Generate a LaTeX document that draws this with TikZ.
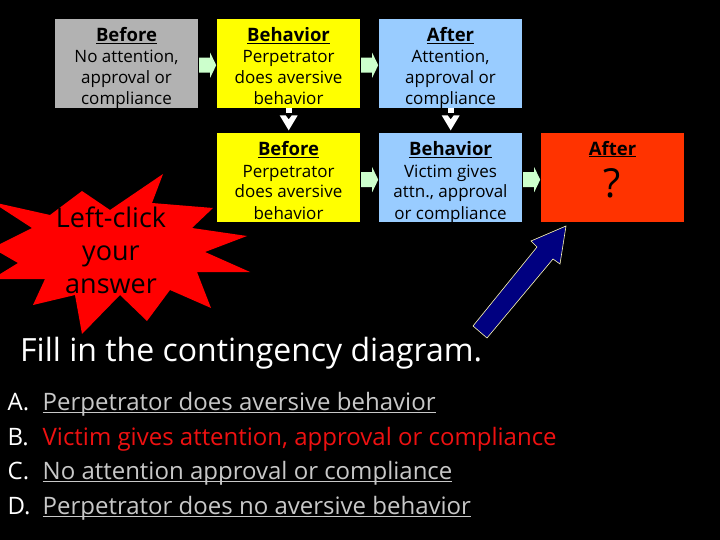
\documentclass[tikz,border=0pt]{standalone}
\usepackage{fontspec}
\setmainfont{Open Sans}
\usetikzlibrary{calc}
\definecolor{boxgray}{HTML}{B2B2B2}
\definecolor{ylw}{HTML}{FFFF00}
\definecolor{lblue}{HTML}{99CCFF}
\definecolor{redbox}{HTML}{FF3300}
\definecolor{starred}{HTML}{FF0000}
\definecolor{mint}{HTML}{CCFFCC}
\definecolor{navyarr}{HTML}{000080}
\definecolor{optgray}{HTML}{C8C8C8}
\definecolor{optred}{HTML}{EE1111}
\newcommand{\myul}[2][2pt]{\setbox0\hbox{#2}\rlap{\rule[-#1]{\wd0}{1.4pt}}\box0}
\newcommand{\hd}[1]{{\fontsize{18.5}{21}\selectfont\myul{\textbf{#1}}}}
\begin{document}
\begin{tikzpicture}[x=1pt,y=-1pt,
  box/.style={draw=none, minimum width=143pt, minimum height=89pt, inner sep=0pt, anchor=north west},
  btxt/.style={align=center, font=\fontsize{17}{21}\selectfont, inner sep=0pt, anchor=base, text=black},
  opt/.style={anchor=base west, inner sep=0pt, font=\fontsize{24}{28}\selectfont, text=white},
  rarr/.pic={\fill[mint] (-8.5,-7.5) -- (2.5,-7.5) -- (2.5,-12.5) -- (8.5,0) -- (2.5,12.5) -- (2.5,7.5) -- (-8.5,7.5) -- cycle;},
  darr/.pic={\fill[white] (-3,0) rectangle (3,5);
             \fill[white] (-9,7) -- (-3,7) -- (0,11) -- (3,7) -- (9,7) -- (0,22) -- cycle;}
]
\fill[black] (0,0) rectangle (720,540);
\useasboundingbox (0,0) rectangle (720,540);
\clip (0,0) rectangle (720,540);

% boxes
\node[box, fill=boxgray] (bef1) at (55,19) {};
\node[box, fill=ylw] (beh1) at (217,19) {};
\node[box, fill=lblue] (aft1) at (379,19) {};
\node[box, fill=ylw] (bef2) at (217,133) {};
\node[box, fill=lblue] (beh2) at (379,133) {};
\node[box, fill=redbox] (aft2) at (541,133) {};

% box texts (base = last line)
\node[btxt] (bef1t) at (126.5,105) {\hd{Before}\\No attention,\\approval or\\compliance};
\node[btxt] (beh1t) at (288.5,105) {\hd{Behavior}\\Perpetrator\\does aversive\\behavior};
\node[btxt] (aft1t) at (450.5,105) {\hd{After}\\Attention,\\approval or\\compliance};
\node[btxt] (bef2t) at (288.5,219) {\hd{Before}\\Perpetrator\\does aversive\\behavior};
\node[btxt] (beh2t) at (450.5,219) {\hd{Behavior}\\Victim gives\\attn., approval\\or compliance};
\node[btxt] (aft2t) at (612.5,155.5) {\hd{After}};
\node[anchor=base, inner sep=0pt, font=\fontsize{40}{40}\selectfont, text=black] (qm) at (612.5,197) {?};

% connectors
\path ($(bef1.east)!0.5!(beh1.west)$) ++(0,1.5) pic {rarr};
\path ($(beh1.east)!0.5!(aft1.west)$) ++(0,1.5) pic {rarr};
\path ($(bef2.east)!0.5!(beh2.west)$) ++(0,2) pic {rarr};
\path ($(beh2.east)!0.5!(aft2.west)$) ++(0,2) pic {rarr};
\path (beh1.south) pic {darr};
\path (aft1.south) pic {darr};

% star
\fill[starred] (163,174) -- (152,203) -- (213,208) -- (192,228) -- (247,236) -- (205,252)
  -- (250,272) -- (197,272) -- (211,308) -- (170,290) -- (147,321) -- (120,295)
  -- (82,334) -- (75,295) -- (33,305) -- (45,279) -- (-8,279) -- (18,263)
  -- (-8,248) -- (32,228) -- (-8,202) -- (50,215) -- (82,191) -- (110,210) -- cycle;
\node[align=center, inner sep=0pt, anchor=base, font=\fontsize{27}{33}\selectfont, text=black] (star) at (111,293) {Left-click\\your\\answer};

% blue arrow
\filldraw[fill=navyarr, draw=yellow!30, line width=0.6pt]
  (473,326) -- (537,247) -- (531,241) -- (566,226) -- (560,264) -- (553,259) -- (487,338) -- cycle;

% title and options
\node[anchor=base west, inner sep=0pt, font=\fontsize{32}{36}\selectfont, text=white] (title) at (20,361) {Fill in the contingency diagram.};
\node[opt] (oA) at (7.5,410) {\makebox[35pt][l]{A.}\textcolor{optgray}{\myul[3pt]{Perpetrator does aversive behavior}}};
\node[opt] (oB) at (7.5,445) {\makebox[35pt][l]{B.}\textcolor{optred}{Victim gives attention, approval or compliance}};
\node[opt] (oC) at (7.5,479) {\makebox[35pt][l]{C.}\textcolor{optgray}{\myul[3pt]{No attention approval or compliance}}};
\node[opt] (oD) at (7.5,514) {\makebox[35pt][l]{D.}\textcolor{optgray}{\myul[3pt]{Perpetrator does no aversive behavior}}};
\end{tikzpicture}
\end{document}
